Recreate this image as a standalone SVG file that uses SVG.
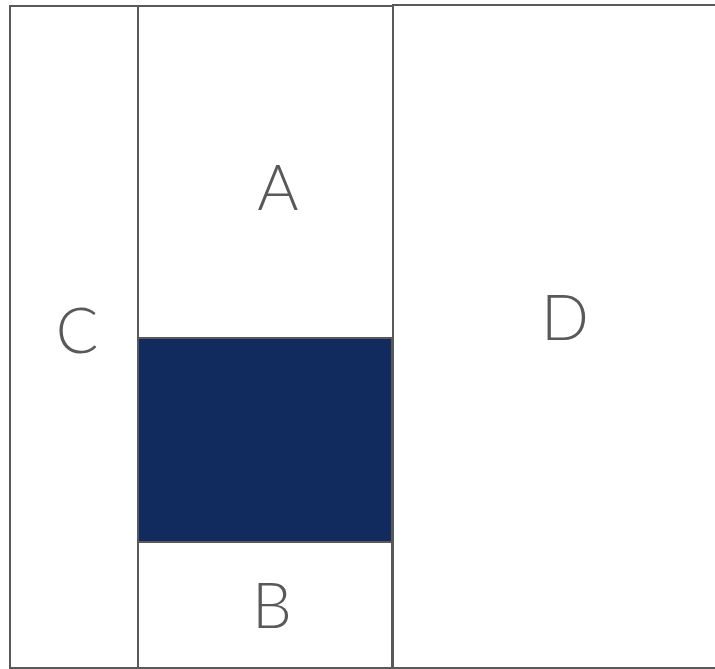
<svg xmlns="http://www.w3.org/2000/svg" width="715" height="669" viewBox="0 0 715 669">
<style>
.box{fill:#ffffff;stroke:#595959;stroke-width:2}
.dark{fill:#122B5F;stroke:#595959;stroke-width:2}
.lbl{font-family:"Lato","Liberation Sans",Arial,sans-serif;font-weight:300;font-size:63px;fill:#595959;text-anchor:middle}
</style>
<rect width="715" height="669" fill="#ffffff"/>
<g id="D"><rect class="box" x="393" y="5" width="324" height="663"/><text class="lbl" x="565" y="340">D</text></g>
<g id="C"><rect class="box" x="10" y="6" width="128" height="662"/><text class="lbl" x="77" y="353">C</text></g>
<g id="A"><rect class="box" x="138" y="6" width="255" height="332"/><text class="lbl" x="278" y="210">A</text></g>
<g id="dark"><rect class="dark" x="138" y="338" width="254" height="204"/></g>
<g id="B"><rect class="box" x="138" y="542" width="254" height="126"/><text class="lbl" x="272" y="628">B</text></g>
<g id="connectors"/>
</svg>
